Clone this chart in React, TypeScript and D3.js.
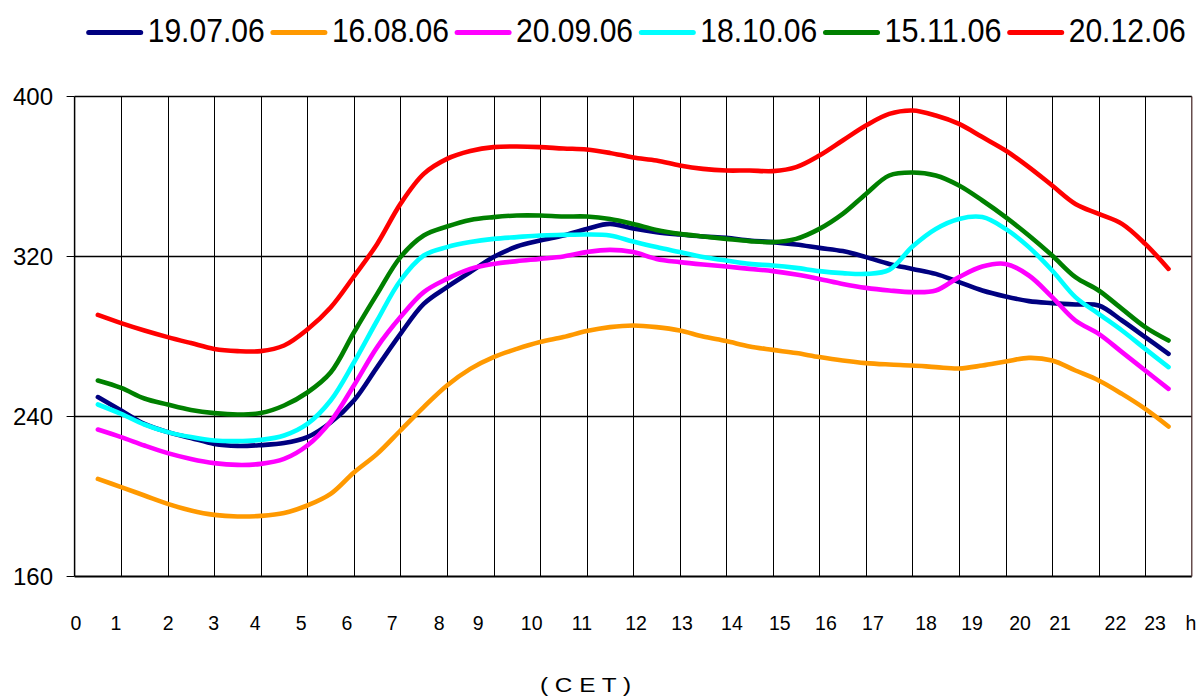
import React from "react";
import * as d3 from "d3";

const hours = [
  0.5, 1, 1.5, 2, 2.5, 3, 3.5, 4, 4.5, 5, 5.5, 6, 6.5, 7, 7.5, 8, 8.5, 9, 9.5, 10,
  10.5, 11, 11.5, 12, 12.5, 13, 13.5, 14, 14.5, 15, 15.5, 16, 16.5, 17, 17.5, 18,
  18.5, 19, 19.5, 20, 20.5, 21, 21.5, 22, 22.5, 23, 23.5,
];

const s190706 = [
  249.7, 243, 236.3, 232.2, 229.3, 226.3, 225.3, 225.7, 226.7, 229.7, 237, 248,
  264.7, 281.3, 296.3, 304.7, 312.2, 319.7, 325, 328, 330.5, 333.8, 336.3, 334,
  332.2, 331, 330, 329.3, 328, 327.2, 326, 324.3, 322.7, 319.7, 316.3, 313.8,
  311.3, 307.2, 303, 300, 297.7, 296.7, 296, 295.5, 288, 279.7, 271.3,
];
const s160806 = [
  208.8, 204.7, 200.5, 196.3, 193, 190.8, 190, 190.3, 191.7, 195.5, 201.3, 212,
  221.3, 233, 244.7, 255.5, 263.8, 269.7, 273.8, 277.2, 279.7, 282.7, 284.7, 285.5,
  284.7, 283, 280, 277.7, 275, 273.3, 271.7, 269.7, 268, 266.7, 266, 265.5,
  264.7, 264, 265.5, 267.5, 269.3, 268, 263, 258, 251.3, 243.8, 235,
];
const s200906 = [
  233.5, 229.7, 225.5, 221.7, 218.8, 216.7, 215.8, 216.3, 218.8, 225.5, 237.5, 255.5,
  274.7, 289.7, 302.2, 308.8, 313.8, 316.3, 317.7, 318.8, 320, 322.2, 323.3, 322.2,
  318.8, 317.2, 316, 315, 313.8, 312.7, 311, 308.8, 306.3, 304.3, 303, 302.2,
  303, 309.7, 315, 316.3, 310.5, 299.7, 288, 281.3, 272.2, 263, 253.8,
];
const s181006 = [
  246, 241.3, 236, 232.2, 229.7, 228, 227.7, 228.3, 230.5, 236.3, 248, 267,
  288, 308, 320.5, 324.7, 327.2, 328.8, 329.7, 330.5, 330.8, 331, 330.5, 327.5,
  324.7, 322.2, 319.7, 318, 316.3, 315.5, 314.3, 312.7, 311.7, 311.3, 313.3, 325,
  333.8, 338.8, 339.7, 333.8, 324.7, 313, 299.7, 291.3, 283, 273.8, 264.7,
];
const s151106 = [
  258, 254.3, 249, 246, 243.3, 241.7, 241, 241.7, 245.5, 252, 262, 282,
  301.3, 319.7, 330.5, 335, 338.3, 339.7, 340.5, 340.5, 340, 340, 338.8, 336.3,
  333.3, 331.3, 330, 328.8, 327.7, 327.2, 328.8, 333.8, 341.3, 351.3, 360.5, 362,
  360.5, 355.5, 348, 339.7, 330.5, 320.5, 309.7, 303, 293.8, 284.7, 278,
];
const s201206 = [
  290.8, 286.7, 283, 279.7, 276.7, 273.8, 272.7, 272.7, 275.5, 283.5, 294.5, 310,
  326.3, 346.3, 361.3, 368.8, 372.7, 374.7, 375, 374.7, 374, 373.5, 371.8, 369.5,
  368, 365.5, 363.8, 363, 363, 362.7, 364.7, 370.5, 378, 385.5, 391.3, 393,
  390.5, 386.3, 379.7, 373, 364.7, 355.5, 346.3, 341.3, 336.3, 326.3, 313.8,
];

const seriesNames = ["19.07.06", "16.08.06", "20.09.06", "18.10.06", "15.11.06", "20.12.06"];
const seriesValues = [s190706, s160806, s200906, s181006, s151106, s201206];
const seriesColors = ["#000080", "#FF9900", "#FF00FF", "#00FFFF", "#008000", "#FF0000"];

const yTicks = [160, 240, 320, 400];
const gridHours = [1, 2, 3, 4, 5, 6, 7, 8, 9, 10, 11, 12, 13, 14, 15, 16, 17, 18, 19, 20, 21, 22, 23];
const xLabels = ["0", "1", "2", "3", "4", "5", "6", "7", "8", "9", "10", "11", "12", "13", "14", "15", "16", "17", "18", "19", "20", "21", "22", "23", "h"];
const xLabelPos = [0.03, 0.89, 2.01, 2.99, 3.88, 4.87, 5.85, 6.82, 7.83, 8.67, 9.82, 10.9, 12.06, 13.05, 14.12, 15.15, 16.14, 17.15, 18.29, 19.28, 20.31, 21.17, 22.36, 23.21, 23.98];

const W = 1201;
const H = 696;
const left = 74.6;
const right = 1191.8;
const top = 96.5;
const bottom = 576.5;

export default function App() {
  const x = d3.scaleLinear().domain([0, 24]).range([left, right]);
  const y = d3.scaleLinear().domain([160, 400]).range([bottom, top]);
  const line = d3
    .line<number>()
    .x((_, i) => x(hours[i]))
    .y((d) => y(d))
    .curve(d3.curveCatmullRom.alpha(0.5));

  const font = "'Liberation Sans', Arial, sans-serif";
  const legendX0 = 88.7;
  const legendStep = 184.2;

  return (
    <svg
      width={W}
      height={H}
      style={{ position: "absolute", left: 0, top: 0, background: "#fff" }}
      fontFamily={font}
    >
      <rect x={0} y={0} width={W} height={H} fill="#fff" />
      {/* vertical grid */}
      {gridHours.map((h) => (
        <line
          key={"v" + h}
          x1={Math.round(x(h)) + 0.5}
          x2={Math.round(x(h)) + 0.5}
          y1={y(400)}
          y2={y(160)}
          stroke="#000"
          strokeWidth={1}
          shapeRendering="crispEdges"
        />
      ))}
      {/* horizontal grid */}
      {yTicks.map((t) => (
        <g key={"h" + t}>
          <line
            x1={left}
            x2={right}
            y1={y(t)}
            y2={y(t)}
            stroke="#000"
            strokeWidth={t === 160 ? 2 : 1.5}
          />
          <line x1={left - 8} x2={left} y1={y(t)} y2={y(t)} stroke="#000" strokeWidth={1} />
          <text
            x={53}
            y={y(t)}
            textAnchor="end"
            dominantBaseline="central"
            fontSize={24}
            fill="#000"
          >
            {t}
          </text>
        </g>
      ))}
      {/* frame */}
      <line x1={left} x2={left} y1={y(400)} y2={y(160)} stroke="#000" strokeWidth={1.5} />
      <line x1={right} x2={right} y1={y(400)} y2={y(160)} stroke="#402020" strokeWidth={1.2} />

      {/* series */}
      {seriesValues.map((vals, k) => (
        <path
          key={seriesNames[k]}
          d={line(vals) || ""}
          fill="none"
          stroke={seriesColors[k]}
          strokeWidth={4.6}
          strokeLinecap="round"
          strokeLinejoin="round"
        />
      ))}

      {/* x labels */}
      {xLabels.map((l, i) => (
        <text key={"xl" + i} x={x(xLabelPos[i])} y={630} textAnchor="middle" fontSize={19.5} fill="#000">
          {l}
        </text>
      ))}
      <text x={585.5} y={692} textAnchor="middle" fontSize={21} fill="#000" textLength={91} lengthAdjust="spacingAndGlyphs">
        ( C E T )
      </text>

      {/* legend */}
      {seriesNames.map((n, k) => {
        const lx = legendX0 + k * legendStep;
        return (
          <g key={"lg" + n}>
            <line x1={lx} x2={lx + 52} y1={32.5} y2={32.5} stroke={seriesColors[k]} strokeWidth={5} strokeLinecap="round" />
            <text
              x={lx + 59}
              y={42}
              fontSize={33}
              fill="#000"
              textLength={117}
              lengthAdjust="spacingAndGlyphs"
            >
              {n}
            </text>
          </g>
        );
      })}
    </svg>
  );
}
